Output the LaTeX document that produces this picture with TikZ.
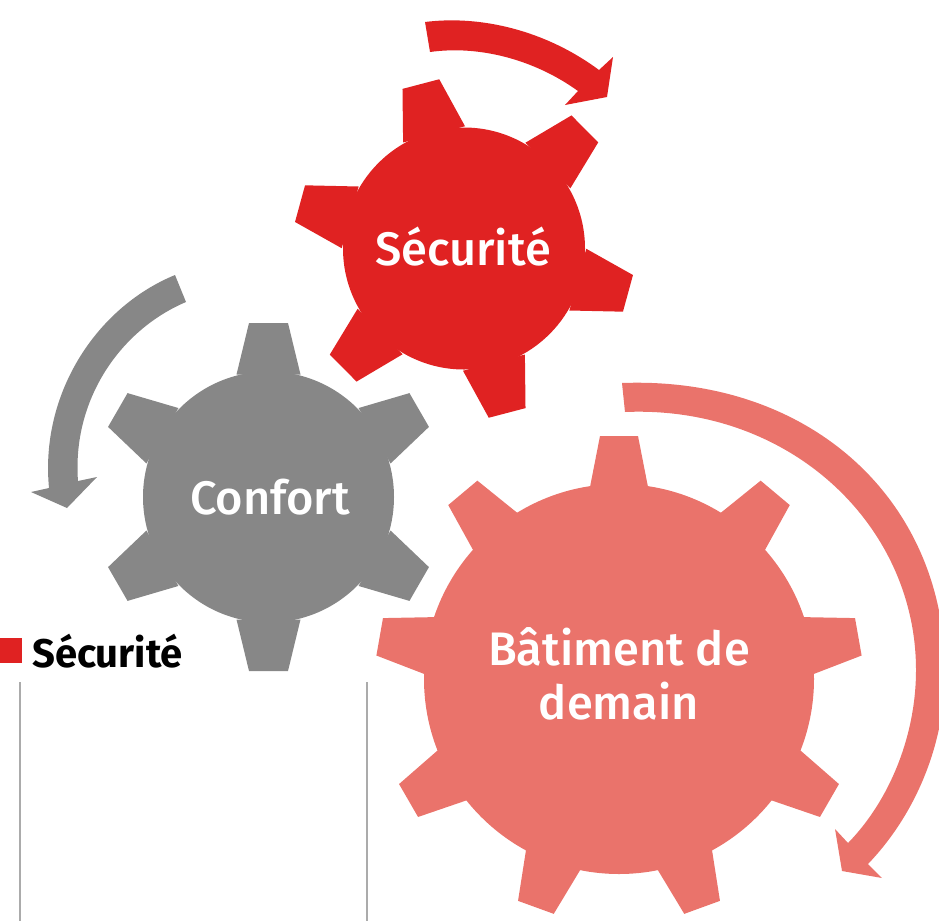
\documentclass[tikz,border=0pt]{standalone}
\usepackage{fontspec}
\setmainfont{Fira Sans Medium}
\newfontfamily\legendfont{Fira Sans Bold}
\definecolor{gearRed}{HTML}{E02222}
\definecolor{gearGrey}{HTML}{878787}
\definecolor{gearPink}{HTML}{EA736B}
\definecolor{ruleGrey}{HTML}{ABABAB}
\tikzset{
	gearlabel/.style={text=white, align=center, font=\fontsize{47}{54}\selectfont},
}
\begin{document}
\begin{tikzpicture}[x=1pt, y=-1pt]
		% 1. page size and clip (same units as the reference pixels)
		\useasboundingbox (0,0) rectangle (939,921);
		\clip (0,0) rectangle (939,921);

		% gear: colour, x, y, radius, base half width, tip radius, tip half width, angles
		\def\gear#1#2#3#4#5#6#7#8{
			\fill[#1] (#2,#3) circle[radius=#4];
			\foreach \a in {#8} {
				\fill[#1, shift={(#2,#3)}, rotate=\a]
					({#4-3},-#5) -- (#6,-#7) -- (#6,#7) -- ({#4-3},#5) -- cycle;
			}
		}

		% 2. gears
		\gear{gearRed}{464}{248.5}{121}{32}{170}{19}{104.7,44.7,-15.3,-75.3,-135.3,164.7}
		\gear{gearGrey}{268.5}{497}{125.5}{32}{174}{19.5}{90,30,-30,-90,-150,150}
		\gear{gearPink}{619}{679}{195}{29}{243}{19}{90,50,10,-30,-70,-110,-150,170,130}

		% 3. curved arrows
		\fill[gearRed] (425,22) .. controls (480,15) and (545,30) .. (599,70)
			-- (613,57) -- (607,97) -- (565,105) -- (578,91)
			.. controls (535,60) and (480,45) .. (430,52) -- cycle;
		\fill[gearGrey] (175,275) .. controls (95,308) and (40,395) .. (49,488)
			-- (31,492) -- (67,508) -- (97,477) -- (78,481)
			.. controls (72,400) and (120,330) .. (186,302) -- cycle;
		\fill[gearPink] (622,383) .. controls (810,376) and (945,500) .. (945,672)
			.. controls (945,745) and (915,815) .. (868,864)
			-- (882,878) -- (842,871) -- (835,829) -- (848,843)
			.. controls (890,800) and (916,735) .. (916,670)
			.. controls (916,525) and (790,405) .. (625,412) -- cycle;

		% 4. gear labels
		\node[gearlabel] (securite) at (463,247) {Sécurité};
		\node[gearlabel] (confort) at (270,497) {Confort};
		\node[gearlabel] (batiment) at (619,674) {Bâtiment de\\demain};

		% 5. legend and rules
		\fill[gearRed] (0,638) rectangle (22,663);
		\node[anchor=west, inner sep=0pt, font=\fontsize{40}{40}\legendfont] (legend) at (32,651) {Sécurité};
		\draw[ruleGrey, line width=1.5pt] (20,682) -- (20,921);
		\draw[ruleGrey, line width=1.5pt] (367,682) -- (367,921);
	\end{tikzpicture}
\end{document}
